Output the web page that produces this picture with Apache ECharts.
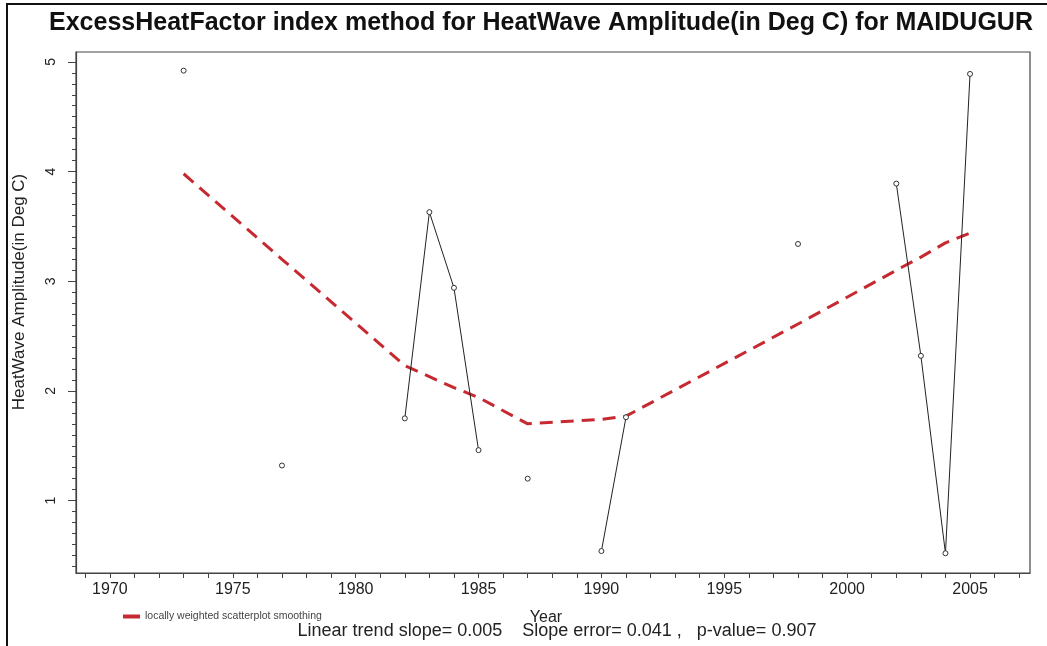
<!DOCTYPE html>
<html>
<head>
<meta charset="utf-8">
<script src="https://cdn.jsdelivr.net/npm/echarts@6/dist/echarts.min.js"></script>
<style>
html,body{margin:0;padding:0;background:#fff;}
#chart{width:1047px;height:646px;}
</style>
</head>
<body>
<div id="chart"></div>
<script>
// ---- data ----
const years = [1973, 1977, 1982, 1983, 1984, 1985, 1987, 1990, 1991, 1998, 2002, 2003, 2004, 2005];
const amplitude = [4.92, 1.32, 1.75, 3.63, 2.94, 1.46, 1.20, 0.54, 1.76, 3.34, 3.89, 2.32, 0.52, 4.89];
const loessValues = [3.98, 3.20, 2.23, 2.13, 2.03, 1.94, 1.70, 1.74, 1.77, 2.61, 3.10, 3.22, 3.35, 3.44];
const xLabelTicks = [1970, 1975, 1980, 1985, 1990, 1995, 2000, 2005];
const yLabelTicks = [1, 2, 3, 4, 5];

const titleText = 'ExcessHeatFactor index method for HeatWave Amplitude(in Deg C) for MAIDUGUR';
const yName = 'HeatWave Amplitude(in Deg C)';
const xName = 'Year';
const legendName = 'locally weighted scatterplot smoothing';
const statsText = 'Linear trend slope= 0.005    Slope error= 0.041 ,   p-value= 0.907';

// ---- derived ----
const xMin = 1968.62, xMax = 2007.44, yMin = 0.34, yMax = 5.09;
const xMinorTicks = [];
for (let y = Math.ceil(xMin); y <= Math.floor(xMax); y++) xMinorTicks.push(y);
const yMinorTicks = [];
for (let k = Math.ceil(yMin * 10); k <= Math.floor(yMax * 10); k++) yMinorTicks.push(+(k / 10).toFixed(1));

// observed series: break the line where consecutive years are missing
const obsData = [];
years.forEach((yr, i) => {
  if (i > 0 && yr - years[i - 1] > 1) obsData.push(['-', '-']);
  obsData.push([yr, amplitude[i]]);
});
const loessData = years.map((yr, i) => [yr, loessValues[i]]);

const FONT = '"Liberation Sans", Arial, sans-serif';
const chart = echarts.init(document.getElementById('chart'), null, {renderer: 'canvas'});
chart.setOption({
  animation: false,
  backgroundColor: '#fff',
  title: {
    text: titleText,
    left: 44, top: 6,
    textStyle: {fontFamily: FONT, fontSize: 25, fontWeight: 'bold', color: '#111'}
  },
  legend: {
    data: [{name: legendName, icon: 'rect'}],
    left: 118, top: 606,
    itemWidth: 17, itemHeight: 4, itemGap: 8,
    textStyle: {fontFamily: FONT, fontSize: 10.5, color: '#444'}
  },
  grid: {
    left: 76, top: 52, right: 17, bottom: 73,
    outerBoundsMode: 'none', containLabel: false,
    show: true, borderColor: '#444', borderWidth: 1.2, backgroundColor: '#fff'
  },
  xAxis: {
    type: 'value', min: xMin, max: xMax,
    name: xName, nameLocation: 'middle', nameGap: 37,
    nameTextStyle: {fontFamily: FONT, fontSize: 16, color: '#222', padding: [0, 14, 0, 0]},
    axisLine: {show: true, lineStyle: {color: '#444', width: 1.2}},
    axisTick: {show: true, length: 5, customValues: xMinorTicks, lineStyle: {color: '#444'}},
    axisLabel: {customValues: xLabelTicks, margin: 9, fontFamily: FONT, fontSize: 16, color: '#222',
      formatter: v => String(v)},
    splitLine: {show: false}
  },
  yAxis: [
    {
      type: 'value', min: yMin, max: yMax, position: 'left',
      axisLine: {show: true, lineStyle: {color: '#444', width: 1.2}},
      axisTick: {show: true, length: 4, customValues: yMinorTicks, lineStyle: {color: '#444'}},
      axisLabel: {show: false},
      splitLine: {show: false}
    },
    {
      type: 'value', min: yMin, max: yMax, position: 'left', gridIndex: 0,
      axisLine: {show: false},
      axisTick: {show: true, length: 8, customValues: yLabelTicks, lineStyle: {color: '#444'}},
      axisLabel: {customValues: yLabelTicks, rotate: 90, margin: 18, fontFamily: FONT, fontSize: 14, color: '#222',
        formatter: v => String(v)},
      splitLine: {show: false}
    }
  ],
  series: [
    {
      type: 'line', name: 'observed', data: obsData, yAxisIndex: 0,
      connectNulls: false, showSymbol: true, symbol: 'circle', symbolSize: 5,
      itemStyle: {color: '#fff', borderColor: '#333', borderWidth: 1},
      lineStyle: {color: '#222', width: 1},
      z: 3
    },
    {
      type: 'line', name: legendName, data: loessData, yAxisIndex: 0,
      showSymbol: false, symbol: 'none',
      itemStyle: {color: '#c62a30'},
      lineStyle: {color: '#c62a30', width: 3, type: [13, 8]},
      z: 2
    }
  ],
  graphic: [
    {type: 'text', x: 19, y: 292, rotation: Math.PI / 2, silent: true,
      style: {text: yName, font: '17px ' + FONT, fill: '#222', align: 'center', verticalAlign: 'middle'}},
    {type: 'text', x: 557, y: 631, silent: true,
      style: {text: statsText, font: '18px ' + FONT, fill: '#222', align: 'center', verticalAlign: 'middle'}},
    {type: 'polyline', shape: {points: [[7, 646], [7, 4], [1047, 4]]}, style: {stroke: '#111', lineWidth: 2, fill: null}, silent: true}
  ]
});
</script>
</body>
</html>
